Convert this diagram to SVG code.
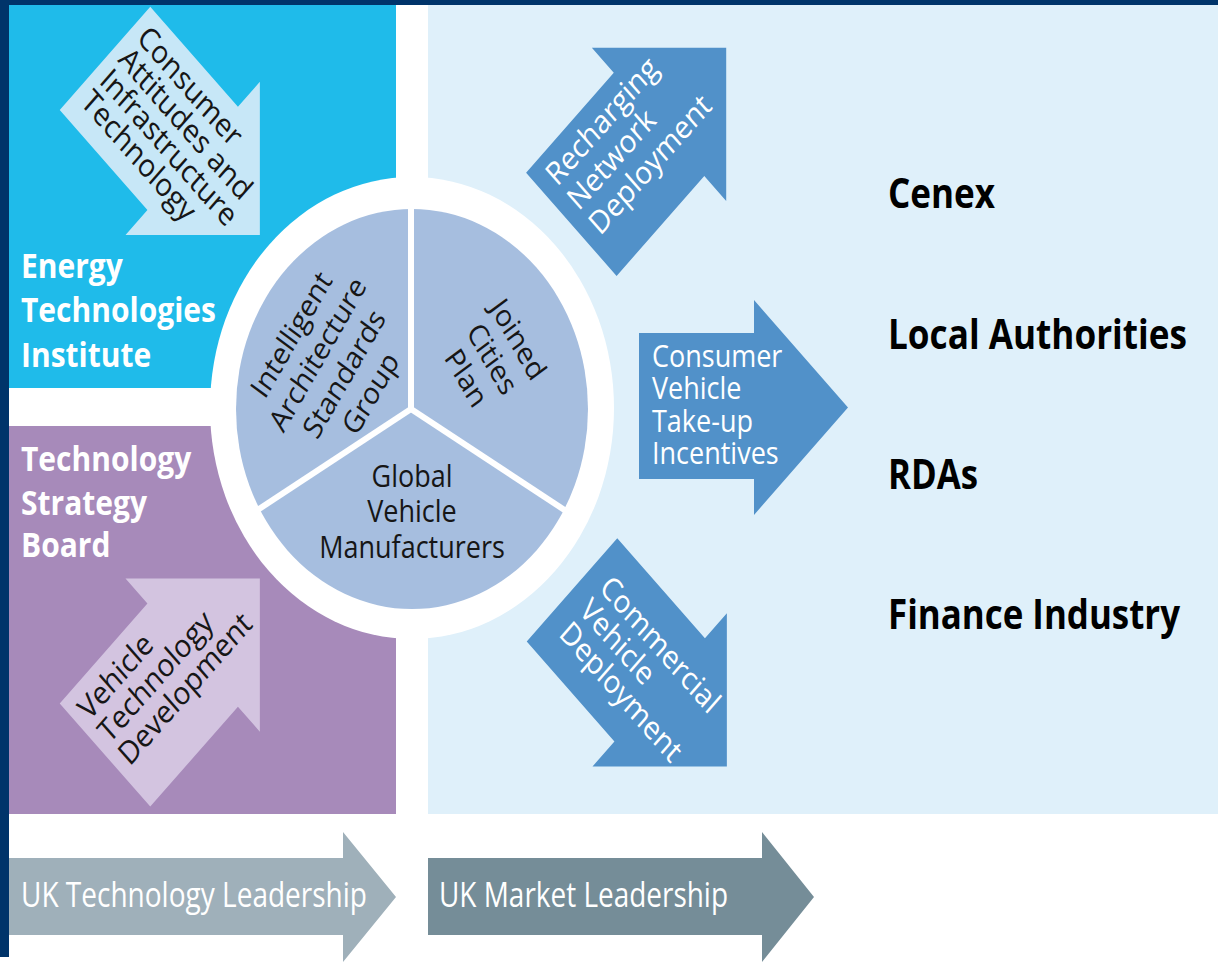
<svg xmlns="http://www.w3.org/2000/svg" width="1218" height="964" viewBox="0 0 1218 964">
<style>
text{font-family:'Open Sans','Noto Sans','Liberation Sans',sans-serif}
.al{font-size:28px}
.dark{fill:#161616}
.wh{fill:#ffffff}
.pie{font-size:27px;fill:#161616;text-anchor:middle}
.org{font-size:30px;font-weight:700;fill:#ffffff}
.part{font-size:36px;font-weight:700;fill:#000000}
.uk{font-size:30px;fill:#ffffff}
</style>
<defs>
<polygon id="arr" points="0,-64 124,-64 124,-95 219,0 124,95 124,64 0,64"/>
</defs>
<rect width="1218" height="964" fill="#ffffff"/>
<g id="panels">
<rect id="eti-panel" x="9" y="5" width="387" height="383" fill="#1fbbea"/>
<rect id="tsb-panel" x="9" y="426" width="387" height="388" fill="#a78aba"/>
<rect id="market-panel" x="428" y="5" width="790" height="809" fill="#dff0fa"/>
</g>
<g id="hub">
<ellipse cx="412" cy="408" rx="202" ry="231" fill="#ffffff"/>
<ellipse cx="412" cy="409" rx="176" ry="200" fill="#a6bedf"/>
<g stroke="#ffffff" stroke-width="6">
<line x1="411" y1="409" x2="411" y2="205"/>
<line x1="411" y1="409" x2="256" y2="511"/>
<line x1="411" y1="409" x2="566" y2="511"/>
</g>
</g>
<g id="iasg">
<text class="pie" transform="translate(331,364) scale(1,1.14) rotate(-57)"><tspan x="0" y="-38">Intelligent</tspan><tspan x="0" y="-6.5">Architecture</tspan><tspan x="0" y="25">Standards</tspan><tspan x="0" y="56.5">Group</tspan></text>
</g>
<g id="jcp">
<text class="pie" transform="translate(492,359) scale(1,1.14) rotate(57)"><tspan x="0" y="-22">Joined</tspan><tspan x="0" y="9">Cities</tspan><tspan x="0" y="40">Plan</tspan></text>
</g>
<g id="gvm">
<text class="pie" transform="translate(412,487) scale(1,1.14)"><tspan x="0" y="0">Global</tspan><tspan x="0" y="31">Vehicle</tspan><tspan x="0" y="62">Manufacturers</tspan></text>
</g>
<g id="consumer-attitudes" transform="scale(1,1.14) translate(105,51.2) rotate(45)">
<use href="#arr" fill="#c7e7f7"/>
<text class="al dark"><tspan x="10" y="-33.4">Consumer</tspan><tspan x="10" y="-6.9">Attitudes and</tspan><tspan x="10" y="19.6">Infrastructure</tspan><tspan x="10" y="46.1">Technology</tspan></text>
</g>
<g id="vehicle-tech" transform="scale(1,1.14) translate(105,662.3) rotate(-45)">
<use href="#arr" fill="#d3c4e0"/>
<text class="al dark"><tspan x="10" y="-32">Vehicle</tspan><tspan x="10" y="-3.5">Technology</tspan><tspan x="10" y="25">Development</tspan></text>
</g>
<g id="recharging" transform="scale(1,1.14) translate(571.35,196.8) rotate(-45)">
<use href="#arr" fill="#5191c9"/>
<text class="al wh"><tspan x="13" y="-33">Recharging</tspan><tspan x="13" y="-2.5">Network</tspan><tspan x="13" y="28">Deployment</tspan></text>
</g>
<g id="commercial" transform="scale(1,1.14) translate(572,517.5) rotate(45)">
<use href="#arr" fill="#5191c9"/>
<text class="al wh"><tspan x="18" y="-19">Commercial</tspan><tspan x="18" y="9.5">Vehicle</tspan><tspan x="18" y="38">Deployment</tspan></text>
</g>
<g id="incentives">
<polygon points="639,333 754,333 754,300 848,407.5 754,515 754,479 639,479" fill="#5191c9"/>
<text class="wh" font-size="27" transform="translate(652,366.7) scale(1,1.14)"><tspan x="0" y="0">Consumer</tspan><tspan x="0" y="28.5">Vehicle</tspan><tspan x="0" y="57">Take-up</tspan><tspan x="0" y="85.5">Incentives</tspan></text>
</g>
<g id="eti">
<text class="org" transform="translate(21,278.3) scale(1,1.14)"><tspan x="0" y="0">Energy</tspan><tspan x="0" y="38.3">Technologies</tspan><tspan x="0" y="77.6">Institute</tspan></text>
</g>
<g id="tsb">
<text class="org" transform="translate(21,470.7) scale(1,1.14)"><tspan x="0" y="0">Technology</tspan><tspan x="0" y="38.8">Strategy</tspan><tspan x="0" y="75.4">Board</tspan></text>
</g>
<g id="partners">
<text class="part" transform="translate(888,208) scale(1,1.14)" textLength="107" lengthAdjust="spacingAndGlyphs">Cenex</text>
<text class="part" transform="translate(888,349) scale(1,1.14)" textLength="299" lengthAdjust="spacingAndGlyphs">Local Authorities</text>
<text class="part" transform="translate(888,489) scale(1,1.14)" textLength="90" lengthAdjust="spacingAndGlyphs">RDAs</text>
<text class="part" transform="translate(888,629) scale(1,1.14)" textLength="292" lengthAdjust="spacingAndGlyphs">Finance Industry</text>
</g>
<g id="uk-tech">
<polygon points="0,858 343,858 343,832 396,897 343,962 343,935 0,935" fill="#9fb0ba"/>
<text class="uk" transform="translate(21,907) scale(1,1.14)" textLength="346" lengthAdjust="spacingAndGlyphs">UK Technology Leadership</text>
</g>
<g id="uk-market">
<polygon points="428,858 762,858 762,832 814,897 762,962 762,935 428,935" fill="#758d98"/>
<text class="uk" transform="translate(439,907) scale(1,1.14)" textLength="289" lengthAdjust="spacingAndGlyphs">UK Market Leadership</text>
</g>
<g id="frame" fill="#00346a">
<rect x="0" y="0" width="1218" height="5"/>
<rect x="0" y="0" width="9" height="957"/>
</g>
</svg>
